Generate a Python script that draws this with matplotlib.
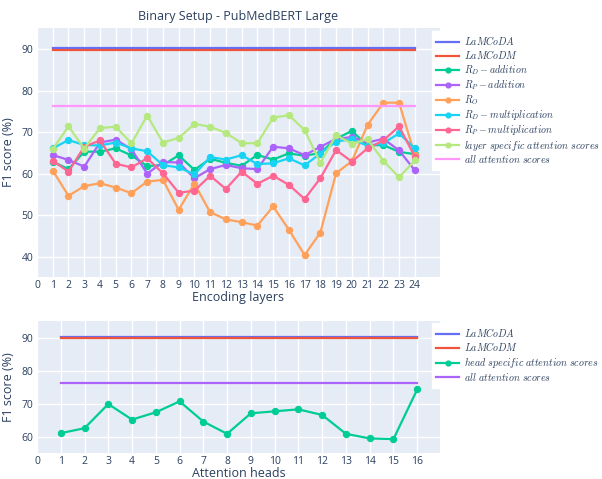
import matplotlib
matplotlib.use("Agg")
import matplotlib.pyplot as plt

plt.rcParams['mathtext.fontset'] = 'cm'
plt.rcParams['font.family'] = ['Open Sans', 'DejaVu Sans']

# ---------------- data ----------------
layers = list(range(1, 25))
lamcoda_val = 90.2
lamcodm_val = 89.9
all_att_val = 76.35

rd_addition = [62.9, 61.1, 65.3, 65.3, 66.1, 64.4, 61.8, 62.1, 64.4, 60.9, 63.6, 62.6,
               61.9, 64.5, 63.4, 64.9, 64.3, 65.0, 68.4, 70.3, 66.8, 66.9, 65.25, 64.7]
rp_addition = [64.5, 63.3, 61.7, 67.5, 68.2, 65.9, 60.0, 62.8, 62.7, 58.9, 61.1, 62.1,
               61.3, 61.1, 66.5, 66.1, 64.45, 66.45, 68.4, 68.8, 67.5, 68.4, 65.6, 60.8]
r_o = [60.75, 54.65, 57.0, 57.7, 56.65, 55.3, 58.1, 58.5, 51.3, 57.6, 50.7, 49.0,
       48.3, 47.5, 52.1, 46.5, 40.4, 45.8, 60.1, 63.0, 71.75, 77.1, 77.1, 64.5]
rd_multiplication = [66.1, 68.1, 66.9, 66.8, 67.5, 66.1, 65.4, 62.05, 61.5, 59.8, 64.0, 63.4,
                     64.45, 62.3, 62.5, 63.7, 62.0, 64.85, 67.75, 68.3, 66.7, 67.35, 69.7, 66.1]
rp_multiplication = [63.1, 60.5, 66.5, 68.0, 62.4, 61.5, 63.7, 60.1, 55.4, 55.9, 59.5, 56.3,
                     60.5, 57.55, 59.5, 57.3, 53.9, 58.9, 65.7, 62.9, 66.1, 68.0, 71.4, 64.1]
layer_specific = [65.9, 71.4, 66.05, 71.0, 71.3, 67.3, 74.0, 67.5, 68.6, 72.0, 71.3, 69.8,
                  67.35, 67.35, 73.5, 74.1, 70.5, 62.6, 69.3, 67.2, 68.3, 63.1, 59.1, 63.2]

heads = list(range(1, 17))
head_specific = [61.1, 62.6, 69.9, 65.2, 67.4, 70.7, 64.6, 60.9, 67.1, 67.7, 68.3, 66.6,
                 60.9, 59.5, 59.3, 74.3]

top_labels = [r'$LaMCoDA$', r'$LaMCoDM$', r'$R_D - addition$', r'$R_P - addition$',
              r'$R_O$', r'$R_D - multiplication$', r'$R_P - multiplication$',
              r'$layer\ specific\ attention\ scores$', r'$all\ attention\ scores$']
bottom_labels = [r'$LaMCoDA$', r'$LaMCoDM$', r'$head\ specific\ attention\ scores$',
                 r'$all\ attention\ scores$']

# ---------------- style ----------------
W, H = 602, 479
BG = '#E5ECF6'
TXT = '#2a3f5f'
C = dict(blue='#636EFA', red='#EF553B', green='#00CC96', purple='#AB63FA',
         orange='#FFA15A', cyan='#19D3F3', pink='#FF6692', lgreen='#B6E880',
         lpink='#FF97FF')

fig = plt.figure(figsize=(W / 100, H / 100), dpi=100)


def ax_at(l, t, r, b):
    return fig.add_axes([l / W, 1 - b / H, (r - l) / W, (b - t) / H])


def style(ax):
    ax.set_facecolor(BG)
    for s in ax.spines.values():
        s.set_visible(False)
    ax.grid(True, color='white', linewidth=1)
    ax.set_axisbelow(True)
    ax.tick_params(length=0, labelsize=7.5, labelcolor=TXT, pad=2.5)


lw = 1.6
ms = 4.3

# top
ax1 = ax_at(37, 28, 440, 277)
style(ax1)
ax1.plot(layers, [lamcoda_val] * len(layers), color=C['blue'], lw=lw, label=top_labels[0])
ax1.plot(layers, [lamcodm_val] * len(layers), color=C['red'], lw=lw, label=top_labels[1])
series = [(rd_addition, 'green'), (rp_addition, 'purple'), (r_o, 'orange'),
          (rd_multiplication, 'cyan'), (rp_multiplication, 'pink'), (layer_specific, 'lgreen')]
for i, (vals, c) in enumerate(series):
    ax1.plot(layers, vals, color=C[c], lw=lw, marker='o', ms=ms, label=top_labels[i + 2])
ax1.plot(layers, [all_att_val] * len(layers), color=C['lpink'], lw=lw, label=top_labels[8])
ax1.set_xlim(0, 25.6)
ax1.set_ylim(35.1, 95.1)
ax1.set_xticks(range(0, 25))
ax1.set_yticks([40, 50, 60, 70, 80, 90])
ax1.set_xlabel('Encoding layers', fontsize=9, color=TXT, labelpad=0)
ax1.set_ylabel('F1 score (%)', fontsize=9, color=TXT, labelpad=5)
ax1.set_title('Binary Setup - PubMedBERT Large', fontsize=9, color=TXT, pad=6)

# bottom
ax2 = ax_at(37, 321, 440, 453)
style(ax2)
ax2.plot(heads, [lamcoda_val] * len(heads), color=C['blue'], lw=lw, label=bottom_labels[0])
ax2.plot(heads, [lamcodm_val] * len(heads), color=C['red'], lw=lw, label=bottom_labels[1])
ax2.plot(heads, head_specific, color=C['green'], lw=lw, marker='o', ms=ms, label=bottom_labels[2])
ax2.plot(heads, [all_att_val] * len(heads), color=C['purple'], lw=lw, label=bottom_labels[3])
ax2.set_xlim(0, 16.96)
ax2.set_ylim(55.1, 95.0)
ax2.set_xticks(range(0, 17))
ax2.set_yticks([60, 70, 80, 90])
ax2.set_xlabel('Attention heads', fontsize=9, color=TXT, labelpad=0)
ax2.set_ylabel('F1 score (%)', fontsize=9, color=TXT, labelpad=5)

for ax, y0 in ((ax1, 31), (ax2, 323)):
    leg = ax.legend(loc='upper left', bbox_to_anchor=(432 / W, 1 - y0 / H),
                    bbox_transform=fig.transFigure, fontsize=7.2, frameon=True,
                    fancybox=False, facecolor='white', edgecolor='white', framealpha=1,
                    borderaxespad=0, borderpad=0.4, handlelength=2.3, handletextpad=0.5,
                    labelspacing=0.12, markerscale=0.8)
    for t in leg.get_texts():
        t.set_color(TXT)

fig.savefig('out.png', dpi=100)
